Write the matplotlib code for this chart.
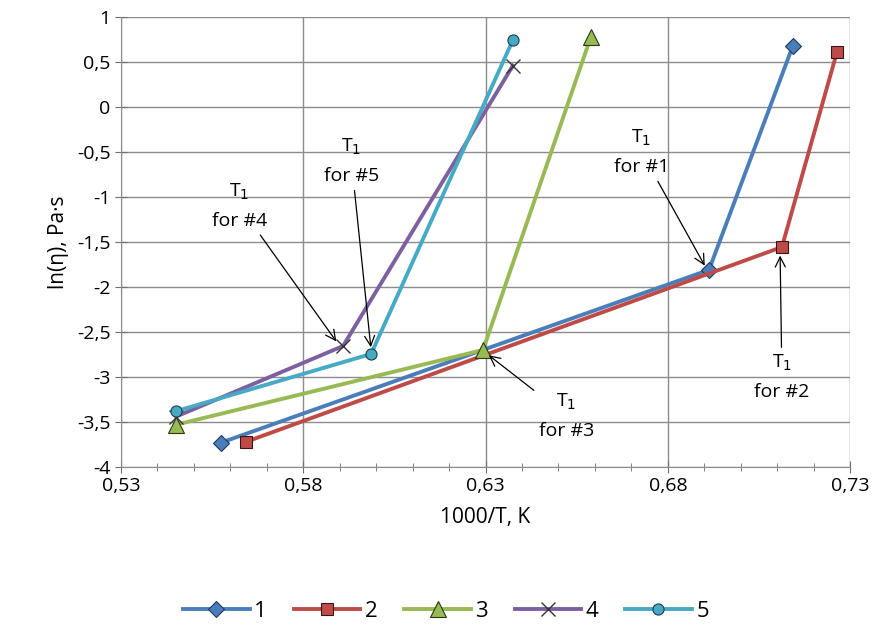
import matplotlib
matplotlib.use('Agg')
import matplotlib.pyplot as plt
from matplotlib.ticker import MultipleLocator, FuncFormatter

plt.rcParams['font.family'] = ['Open Sans', 'DejaVu Sans']

# data (x = 1000/T, y = ln(eta))
x1 = [0.5574, 0.6913, 0.7143]
y1 = [-3.73, -1.81, 0.68]
x2 = [0.5643, 0.7113, 0.7264]
y2 = [-3.72, -1.556, 0.61]
x3 = [0.5451, 0.6293, 0.6589]
y3 = [-3.53, -2.70, 0.78]
x4 = [0.5451, 0.5909, 0.6375]
y4 = [-3.44, -2.656, 0.46]
x5 = [0.5451, 0.5986, 0.6375]
y5 = [-3.38, -2.744, 0.744]
labels = ['1', '2', '3', '4', '5']
xticks = [0.53, 0.58, 0.63, 0.68, 0.73]

fig = plt.figure(figsize=(8.92, 6.42), dpi=100)
ax = fig.add_axes([0.1357, 0.2726, 0.8173, 0.7009])

lw = 2.8
ax.plot(x1, y1, color='#4a7ebb', lw=lw, marker='D', ms=8, mfc='#4a7ebb', mec='#1f3a5f', mew=0.8, label=labels[0], zorder=3)
ax.plot(x2, y2, color='#be4b48', lw=lw, marker='s', ms=8, mfc='#be4b48', mec='#3a1515', mew=0.8, label=labels[1], zorder=3)
ax.plot(x3, y3, color='#98b954', lw=lw, marker='^', ms=11, mfc='#98b954', mec='#2a3a10', mew=0.8, label=labels[2], zorder=3)
ax.plot(x4, y4, color='#7d60a0', lw=lw, marker='x', ms=10, mfc='none', mec='#333333', mew=1.0, label=labels[3], zorder=3)
ax.plot(x5, y5, color='#46aac5', lw=lw, marker='o', ms=8, mfc='#46aac5', mec='#1a3f4a', mew=0.8, label=labels[4], zorder=3)

ax.set_xlim(0.53, 0.73)
ax.set_ylim(-4, 1)
ax.set_xticks(xticks)
ax.xaxis.set_minor_locator(MultipleLocator(0.01))
ax.yaxis.set_major_locator(MultipleLocator(0.5))
comma = FuncFormatter(lambda v, p: ('%g' % round(v, 3)).replace('.', ','))
ax.xaxis.set_major_formatter(comma)
ax.yaxis.set_major_formatter(comma)
ax.grid(True, which='major', color='#8c8c8c', lw=1.0)
ax.set_axisbelow(True)
ax.tick_params(axis='both', which='major', direction='inout', length=8, labelsize=14, color='#6e6e6e')
ax.tick_params(axis='x', which='minor', direction='inout', length=6, color='#6e6e6e')
for s in ax.spines.values():
    s.set_color('#8c8c8c')
ax.spines['top'].set_visible(False)
ax.spines['right'].set_visible(False)

ax.set_xlabel('1000/T, K', fontsize=15, labelpad=8)
ax.set_ylabel('ln(η), Pa·s', fontsize=15, labelpad=6)

# annotations for T1
arrow = dict(arrowstyle='->', color='black', lw=0.9, mutation_scale=18)
ax.annotate('T$_1$\nfor #1', xy=(0.6905, -1.79), xytext=(0.6728, -0.5),
            ha='center', va='center', fontsize=14, linespacing=1.7, arrowprops=arrow)
ax.annotate('T$_1$\nfor #2', xy=(0.7108, -1.62), xytext=(0.7113, -3.0),
            ha='center', va='center', fontsize=14, linespacing=1.7, arrowprops=arrow)
ax.annotate('T$_1$\nfor #3', xy=(0.6303, -2.74), xytext=(0.6522, -3.43),
            ha='center', va='center', fontsize=14, linespacing=1.7, arrowprops=arrow)
ax.annotate('T$_1$\nfor #4', xy=(0.5895, -2.63), xytext=(0.5625, -1.1),
            ha='center', va='center', fontsize=14, linespacing=1.7, arrowprops=arrow)
ax.annotate('T$_1$\nfor #5', xy=(0.5986, -2.70), xytext=(0.5932, -0.6),
            ha='center', va='center', fontsize=14, linespacing=1.7, arrowprops=arrow)

fig.legend(loc='lower center', ncol=5, frameon=False, fontsize=16,
           bbox_to_anchor=(0.5, 0.0), handlelength=3, columnspacing=1.2, handletextpad=0.2)

fig.savefig('out.png', dpi=100)
